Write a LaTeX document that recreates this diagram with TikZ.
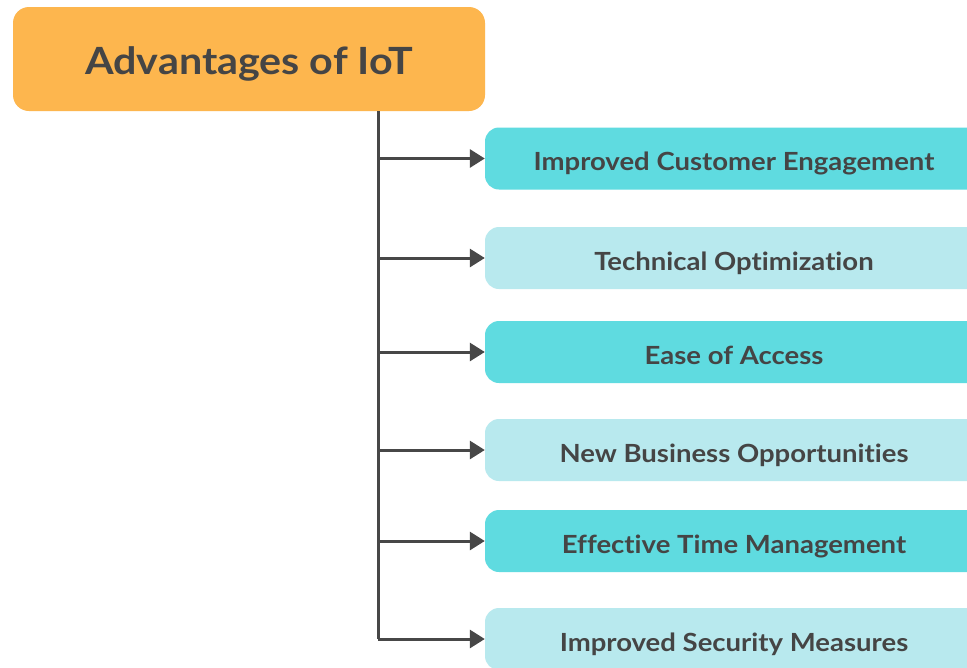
\documentclass[tikz,border=0pt]{standalone}
\usepackage{fontspec}
\setmainfont[Ligatures={NoCommon},FakeStretch=1.1]{Lato}
\usetikzlibrary{arrows.meta}
\definecolor{orangebox}{HTML}{FDB64E}
\definecolor{tealdark}{HTML}{5FDBE0}
\definecolor{teallight}{HTML}{B8E9EE}
\definecolor{txt}{HTML}{454545}
\definecolor{linec}{HTML}{474747}
\begin{document}
\begin{tikzpicture}[x=1pt,y=-1pt,
  titlebox/.style={fill=orangebox,rounded corners=16pt,inner sep=0pt,minimum width=472pt,minimum height=104pt,text=txt,text height=30pt,text depth=0pt,font=\fontsize{37.5}{42}\selectfont\bfseries},
  itembox/.style={rounded corners=14pt,inner sep=0pt,minimum width=498pt,minimum height=62pt,text=txt,text height=24pt,text depth=0pt,font=\fontsize{25}{30}\selectfont\bfseries},
  darkitem/.style={itembox,fill=tealdark},
  lightitem/.style={itembox,fill=teallight},
  conn/.style={draw=linec,line width=3pt,-{Triangle[length=15pt 0,width=18pt 0]}}]
\useasboundingbox (0,0) rectangle (967,667);
\clip (0,0) rectangle (967,667);
\fill[white] (0,0) rectangle (967,667);
\node[titlebox] (root) at (249,59) {Advantages of IoT};
\node[darkitem]  (a) at (734,158.5) {Improved Customer Engagement};
\node[lightitem] (b) at (734,258) {Technical Optimization};
\node[darkitem]  (c) at (734,352) {Ease of Access};
\node[lightitem] (d) at (734,450) {New Business Opportunities};
\node[darkitem]  (e) at (734,541) {Effective Time Management};
\node[lightitem] (f) at (734,639) {Improved Security Measures};
\coordinate (top) at (378,111);
\coordinate (bot) at (378,639);
\draw[draw=linec,line width=3pt] (top) -- (bot);
\foreach \n in {a,b,c,d,e,f}{
  \draw[conn] (top |- \n.west) -- (\n.west);
}
\end{tikzpicture}
\end{document}
